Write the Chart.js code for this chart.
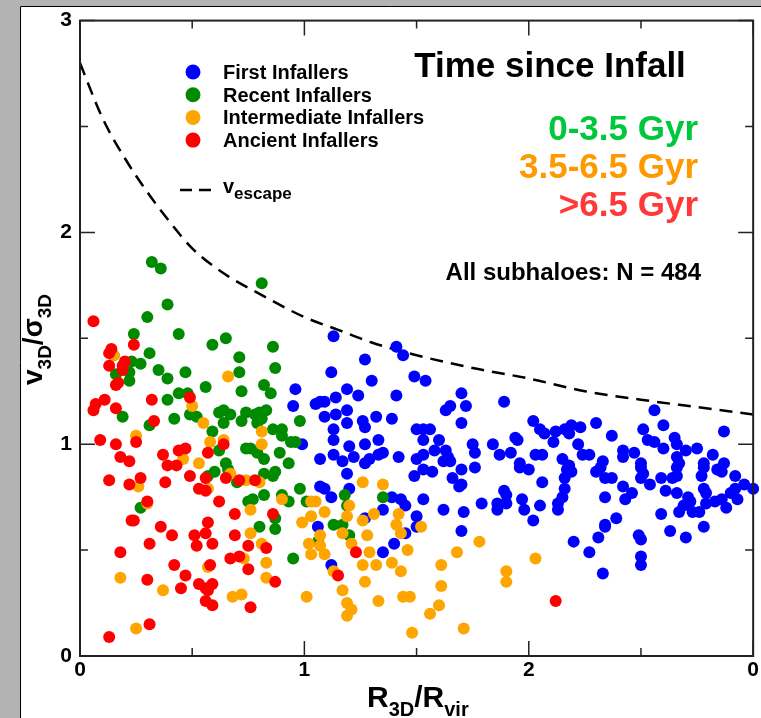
<!DOCTYPE html>
<html>
<head>
<meta charset="utf-8">
<script src="https://cdn.jsdelivr.net/npm/chart.js@4"></script>
<style>
  html, body { margin: 0; padding: 0; background: #b3b3b3; overflow: hidden; }
  canvas { display: block; }
</style>
</head>
<body>
<canvas id="chart" width="761" height="718"></canvas>
<script>
// values: [R3D/Rvir, v3D/sigma3D]
const firstInfallers = [
  [1.13,1.51],[1.41,1.46],[1.44,1.42],[1.27,1.40],[1.12,1.34],[1.30,1.30],[1.49,1.32],[0.96,1.26],[1.19,1.26],[1.24,1.23],
  [1.14,1.22],[1.41,1.23],[0.95,1.18],[1.05,1.19],[1.07,1.20],[1.09,1.20],[1.19,1.16],[1.09,1.13],[1.14,1.14],[1.19,1.10],
  [1.26,1.11],[1.27,1.08],[1.32,1.13],[1.39,1.12],[1.13,1.07],[1.50,1.07],[1.13,1.02],[1.20,0.99],[1.27,1.00],[1.33,1.02],
  [0.99,1.00],[1.07,0.93],[1.13,0.95],[1.17,0.92],[1.22,0.94],[1.29,0.93],[1.33,0.95],[1.35,0.96],[1.42,0.94],[1.50,0.93],
  [1.27,0.91],
  [1.54,1.30],[1.70,1.24],[1.72,1.18],[1.65,1.18],[1.63,1.16],[1.89,1.20],[1.70,1.10],[2.02,1.11],[2.05,1.07],[2.07,1.05],
  [2.12,1.06],[2.16,1.07],[2.19,1.09],[2.23,1.08],[2.18,1.05],[1.53,1.07],[1.56,1.07],[1.53,1.02],[1.60,1.02],[1.75,1.00],
  [1.84,1.00],[1.94,1.03],[1.95,1.02],[2.11,1.01],[2.22,1.00],[1.53,0.95],[1.58,0.97],[1.63,0.97],[1.64,0.94],[1.76,0.96],
  [1.87,0.95],[1.92,0.96],[2.03,0.95],[2.06,0.95],[2.15,0.93],[2.24,0.95],[1.62,0.92],[1.65,0.92],[1.96,0.91],[2.18,0.90],
  [2.56,1.16],[2.30,1.10],[2.60,1.09],[2.37,1.04],[2.51,1.07],[2.87,1.06],[2.53,1.02],[2.56,1.01],[2.65,1.03],[2.66,1.00],
  [2.60,0.98],[2.42,0.97],[2.47,0.96],[2.42,0.94],[2.70,0.97],[2.75,0.98],[2.82,0.95],[2.66,0.94],[2.27,0.95],[2.33,0.92],
  [2.50,0.91],[2.78,0.91],[2.87,0.91],[2.67,0.91],
  [1.07,0.80],[1.09,0.79],[1.12,0.75],[1.20,0.79],[1.19,0.86],[1.39,0.75],[1.43,0.74],[1.45,0.71],[1.35,0.69],[1.27,0.65],
  [1.50,0.66],[1.06,0.61],[1.45,0.58],[1.40,0.53],[1.35,0.49],[1.12,0.43],[1.49,0.85],[1.50,0.61],
  [1.57,0.87],[1.53,0.88],[1.66,0.84],[1.70,0.88],[1.76,0.89],[1.69,0.80],[1.70,0.81],[1.53,0.74],[1.62,0.69],[1.71,0.68],
  [1.70,0.59],[1.79,0.72],[1.86,0.72],[1.86,0.69],[1.90,0.72],[1.89,0.78],[1.90,0.76],[1.97,0.74],[1.98,0.69],[2.02,0.64],
  [2.05,0.71],[2.06,0.82],[2.13,0.72],[2.13,0.69],[2.15,0.75],[2.16,0.79],[2.16,0.84],[2.19,0.87],[1.96,0.89],[2.00,0.88],
  [2.20,0.54],[2.17,0.88],
  [2.30,0.87],[2.32,0.89],[2.34,0.84],[2.37,0.84],[2.42,0.80],[2.34,0.75],[2.43,0.74],[2.46,0.77],[2.50,0.89],[2.51,0.86],
  [2.50,0.84],[2.54,0.81],[2.59,0.84],[2.64,0.84],[2.66,0.85],[2.66,0.89],[2.61,0.78],[2.66,0.77],[2.77,0.85],[2.78,0.89],
  [2.84,0.88],[2.86,0.87],[2.92,0.85],[2.96,0.81],[3.00,0.79],[2.92,0.79],[2.90,0.77],[2.93,0.74],[2.78,0.79],[2.79,0.77],
  [2.71,0.75],[2.72,0.73],[2.69,0.71],[2.67,0.68],[2.73,0.68],[2.76,0.68],[2.79,0.72],[2.83,0.73],[2.86,0.74],[2.88,0.70],
  [2.59,0.67],[2.39,0.65],[2.34,0.62],[2.34,0.61],[2.31,0.56],[2.49,0.57],[2.50,0.55],[2.63,0.59],[2.70,0.56],[2.78,0.61],
  [2.27,0.49],[2.50,0.47],[2.50,0.43],[2.33,0.39]
];

const recentInfallers = [
  [0.32,1.86],[0.36,1.83],[0.81,1.76],
  [0.39,1.66],[0.30,1.60],[0.24,1.52],[0.44,1.52],[0.65,1.50],[0.59,1.47],[0.31,1.43],[0.71,1.41],[0.23,1.39],[0.27,1.38],
  [0.15,1.42],[0.35,1.35],[0.47,1.34],[0.71,1.34],[0.16,1.33],[0.22,1.34],[0.39,1.31],[0.22,1.30],[0.56,1.27],[0.72,1.25],
  [0.39,1.21],[0.44,1.24],[0.48,1.24],[0.19,1.13],[0.42,1.12],[0.49,1.14],[0.52,1.13],[0.62,1.15],[0.64,1.16],[0.67,1.14],
  [0.64,1.10],[0.74,1.15],[0.72,1.11],[0.59,1.06],[0.31,1.09],[0.62,0.97],[0.74,0.98],[0.65,0.91],
  [0.86,1.46],[0.87,1.36],[0.82,1.28],[0.85,1.24],[0.78,1.14],[0.80,1.15],[0.83,1.16],[0.79,1.10],[0.81,1.12],[0.98,1.11],
  [0.86,1.07],[0.90,1.07],[0.90,1.04],[0.94,1.01],[0.96,1.01],[0.89,0.96],[0.82,0.93],[0.93,0.91],[0.76,0.98],[0.79,0.96],
  [0.60,0.87],[0.57,0.85],[0.66,0.88],[0.70,0.82],[0.27,0.70],[0.75,0.73],
  [0.82,0.86],[0.86,0.85],[0.87,0.87],[0.98,0.79],[0.90,0.76],[0.93,0.73],[1.01,0.73],[0.82,0.76],[0.77,0.74],[1.18,0.76],
  [1.19,0.71],[1.35,0.75],[0.87,0.65],[0.87,0.60],[0.80,0.61],[1.13,0.62],[1.17,0.62],[1.20,0.57],[1.06,0.54],[0.95,0.46]
];

const intermediateInfallers = [
  [0.15,1.42],[0.66,1.32],[0.50,1.18],[0.55,1.10],[0.25,1.04],[0.58,1.01],[0.64,1.02],[0.46,0.93],[0.53,0.91],
  [0.81,1.06],[0.81,1.00],
  [0.26,0.80],[0.67,0.86],[0.74,0.83],[0.30,0.72],[0.57,0.79],[0.76,0.69],[0.76,0.58],[0.73,0.46],[0.57,0.42],[0.18,0.37],
  [0.37,0.31],[0.68,0.28],[0.72,0.29],[0.25,0.13],
  [0.80,0.82],[0.90,0.74],[1.03,0.73],[1.05,0.73],[1.09,0.68],[1.03,0.66],[0.99,0.63],[0.81,0.53],[0.83,0.44],[0.83,0.37],
  [1.02,0.53],[1.07,0.57],[1.07,0.52],[1.03,0.48],[1.09,0.48],[1.17,0.58],[1.19,0.66],[1.20,0.71],[1.21,0.53],[1.26,0.82],
  [1.35,0.81],[1.26,0.64],[1.31,0.67],[1.42,0.67],[1.41,0.62],[1.43,0.58],[1.28,0.57],[1.29,0.49],[1.26,0.43],[1.32,0.43],
  [1.39,0.44],[1.43,0.40],[1.46,0.50],[1.27,0.35],[1.13,0.40],[1.17,0.31],[1.01,0.28],[1.19,0.25],[1.21,0.22],[1.19,0.19],
  [1.33,0.26],[1.44,0.28],[1.47,0.28],[1.48,0.11],
  [1.52,0.61],[1.78,0.54],[1.68,0.49],[1.61,0.43],[1.61,0.33],[1.60,0.24],[1.56,0.20],[1.71,0.13],[1.90,0.40],[1.90,0.35],
  [2.03,0.46]
];

const ancientInfallers = [
  [0.06,1.58],[0.24,1.47],[0.14,1.45],[0.13,1.43],[0.13,1.37],[0.19,1.37],[0.20,1.39],[0.19,1.35],[0.16,1.28],[0.17,1.29],
  [0.11,1.21],[0.07,1.19],[0.06,1.16],[0.16,1.17],[0.32,1.21],[0.49,1.22],[0.33,1.11],[0.09,1.02],[0.16,1.00],[0.25,1.01],
  [0.18,0.94],[0.22,0.92],[0.37,0.95],[0.44,0.97],[0.47,0.98],[0.57,0.96],[0.64,1.00],[0.39,0.90],[0.43,0.90],
  [0.13,0.83],[0.22,0.81],[0.27,0.84],[0.38,0.82],[0.49,0.85],[0.56,0.84],[0.53,0.79],[0.56,0.78],[0.65,0.84],[0.71,0.83],
  [0.30,0.73],[0.23,0.64],[0.24,0.64],[0.36,0.61],[0.41,0.57],[0.51,0.57],[0.56,0.58],[0.59,0.53],[0.52,0.52],[0.31,0.53],
  [0.18,0.49],[0.57,0.63],[0.62,0.73],[0.69,0.67],[0.69,0.57],[0.75,0.52],[0.42,0.43],[0.58,0.43],[0.47,0.38],[0.30,0.36],
  [0.45,0.32],[0.53,0.34],[0.56,0.32],[0.59,0.34],[0.57,0.31],[0.56,0.26],[0.59,0.24],[0.67,0.46],[0.71,0.47],[0.75,0.41],
  [0.31,0.15],[0.13,0.09],[0.76,0.23],
  [0.78,0.83],[0.86,0.67],[0.83,0.51],[0.87,0.35],[1.15,0.38],[1.23,0.49],
  [2.12,0.26]
];

// escape velocity curve
const escapeR = [0, 0.1, 0.2, 0.3, 0.4, 0.5, 0.65, 0.8, 1.0, 1.15, 1.3, 1.5, 1.75, 2.0, 2.25, 2.5, 2.75, 3.0];
const escapeV = [2.80, 2.54, 2.35, 2.19, 2.05, 1.925, 1.80, 1.71, 1.60, 1.54, 1.48, 1.42, 1.36, 1.31, 1.25, 1.21, 1.175, 1.14];

const xTicks = [0, 1, 2, 3];
const yTicks = [0, 1, 2, 3];

const FONT = '"Liberation Sans", Arial, Helvetica, sans-serif';
const BLUE = "#0000ff", GREEN = "#008a00", ORANGE = "#ffa500", RED = "#ff0000";

function toPoints(arr) {
  return arr.map(p => ({ x: p[0], y: p[1] }));
}

function pointSet(label, data, color, order) {
  return {
    type: "scatter",
    label: label,
    data: toPoints(data),
    backgroundColor: color,
    borderWidth: 0,
    pointRadius: 6,
    pointHoverRadius: 6,
    order: order,
    clip: false
  };
}

// draws a run of text pieces [text, size, baselineShift]
function drawPieces(ctx, x, y, pieces) {
  let cx = x;
  pieces.forEach(p => {
    ctx.font = "bold " + p[1] + "px " + FONT;
    ctx.fillText(p[0], cx, y + p[2]);
    cx += ctx.measureText(p[0]).width;
  });
}

const decorations = {
  id: "decorations",
  beforeDraw(chart) {
    const ctx = chart.ctx;
    ctx.save();
    ctx.fillStyle = "#b3b3b3";
    ctx.fillRect(0, 0, chart.width, chart.height);
    ctx.fillStyle = "#ffffff";
    ctx.fillRect(20, 7, chart.width - 20, chart.height - 7);
    ctx.strokeStyle = "#000";
    ctx.lineWidth = 1;
    ctx.beginPath();
    ctx.moveTo(20.5, chart.height);
    ctx.lineTo(20.5, 6.5);
    ctx.lineTo(chart.width, 6.5);
    ctx.stroke();
    ctx.restore();
  },
  afterDraw(chart) {
    const ctx = chart.ctx;
    const a = chart.chartArea;
    const xs = chart.scales.x, ys = chart.scales.y;
    ctx.save();

    // inward ticks, mirrored on all four sides
    ctx.strokeStyle = "#222";
    ctx.lineWidth = 1.5;
    ctx.beginPath();
    for (let v = 0; v <= 3.001; v += 0.5) {
      const len = Math.abs(v - Math.round(v)) < 1e-6 ? 15 : 8;
      const px = xs.getPixelForValue(v);
      ctx.moveTo(px, a.bottom); ctx.lineTo(px, a.bottom - len);
      ctx.moveTo(px, a.top); ctx.lineTo(px, a.top + len);
      const py = ys.getPixelForValue(v);
      ctx.moveTo(a.left, py); ctx.lineTo(a.left + len, py);
      ctx.moveTo(a.right, py); ctx.lineTo(a.right - len, py);
    }
    ctx.stroke();
    ctx.lineWidth = 2;
    ctx.strokeRect(a.left, a.top, a.right - a.left, a.bottom - a.top);

    // legend
    const rows = [
      ["First Infallers", BLUE],
      ["Recent Infallers", GREEN],
      ["Intermediate Infallers", ORANGE],
      ["Ancient Infallers", RED]
    ];
    ctx.textBaseline = "alphabetic";
    ctx.textAlign = "left";
    rows.forEach((r, i) => {
      const cy = 72 + i * 22.7;
      ctx.fillStyle = r[1];
      ctx.beginPath();
      ctx.arc(193, cy, 7.5, 0, Math.PI * 2);
      ctx.fill();
      ctx.fillStyle = "#000";
      ctx.font = "bold 20px " + FONT;
      ctx.fillText(r[0], 223, cy + 7);
    });
    ctx.strokeStyle = "#000";
    ctx.lineWidth = 2.5;
    ctx.setLineDash([12, 7]);
    ctx.beginPath();
    ctx.moveTo(180, 190); ctx.lineTo(212, 190);
    ctx.stroke();
    ctx.setLineDash([]);
    ctx.fillStyle = "#000";
    drawPieces(ctx, 223, 193, [["v", 20, 0], ["escape", 17, 6]]);

    // annotations
    ctx.font = "bold 35px " + FONT;
    ctx.textAlign = "center";
    ctx.fillText("Time since Infall", 550, 77);
    ctx.textAlign = "right";
    ctx.fillStyle = "#00c83c";
    ctx.fillText("0-3.5 Gyr", 698, 140);
    ctx.fillStyle = "#ff9900";
    ctx.fillText("3.5-6.5 Gyr", 698, 178);
    ctx.fillStyle = "#ff3838";
    ctx.fillText(">6.5 Gyr", 698, 216);
    ctx.fillStyle = "#000";
    ctx.font = "bold 24px " + FONT;
    ctx.fillText("All subhaloes: N = 484", 701, 280);

    // axis titles with subscripts
    ctx.textAlign = "left";
    drawPieces(ctx, 367, 707, [["R", 30, 0], ["3D", 20, 9], ["/R", 30, 0], ["vir", 20, 9]]);
    ctx.translate(42, 385);
    ctx.rotate(-Math.PI / 2);
    drawPieces(ctx, 0, 0, [["v", 28, 0], ["3D", 19, 9], ["/", 28, 0], ["\u03c3", 28, 0], ["3D", 19, 9]]);
    ctx.restore();
  }
};

new Chart(document.getElementById("chart"), {
  type: "scatter",
  data: {
    datasets: [
      {
        type: "line",
        label: "v_escape",
        data: escapeR.map((r, i) => ({ x: r, y: escapeV[i] })),
        borderColor: "#000",
        borderWidth: 2.5,
        borderDash: [13, 8],
        pointRadius: 0,
        fill: false,
        tension: 0.4,
        cubicInterpolationMode: "monotone",
        order: 5
      },
      pointSet("First Infallers", firstInfallers, BLUE, 4),
      pointSet("Recent Infallers", recentInfallers, GREEN, 3),
      pointSet("Intermediate Infallers", intermediateInfallers, ORANGE, 2),
      pointSet("Ancient Infallers", ancientInfallers, RED, 1)
    ]
  },
  options: {
    responsive: false,
    animation: false,
    devicePixelRatio: 1,
    events: [],
    layout: { padding: { left: 20, right: 6, top: 18, bottom: 0 } },
    plugins: {
      legend: { display: false },
      tooltip: { enabled: false },
      title: { display: false }
    },
    scales: {
      x: {
        type: "linear",
        min: 0,
        max: 3,
        grid: { display: false, drawTicks: false },
        border: { display: false },
        afterBuildTicks: s => { s.ticks = xTicks.map(v => ({ value: v })); },
        afterFit: s => { s.height = 62; },
        ticks: {
          color: "#000",
          padding: 2,
          font: { family: FONT, size: 21, weight: "bold" },
          // the next panel's "0" shows through at the right edge
          callback: v => (v === 3 ? "0" : String(v))
        }
      },
      y: {
        type: "linear",
        min: 0,
        max: 3,
        grid: { display: false, drawTicks: false },
        border: { display: false },
        afterBuildTicks: s => { s.ticks = yTicks.map(v => ({ value: v })); },
        afterFit: s => { s.width = 60; },
        ticks: {
          color: "#000",
          padding: 8,
          font: { family: FONT, size: 21, weight: "bold" }
        }
      }
    }
  },
  plugins: [decorations]
});
</script>
</body>
</html>
